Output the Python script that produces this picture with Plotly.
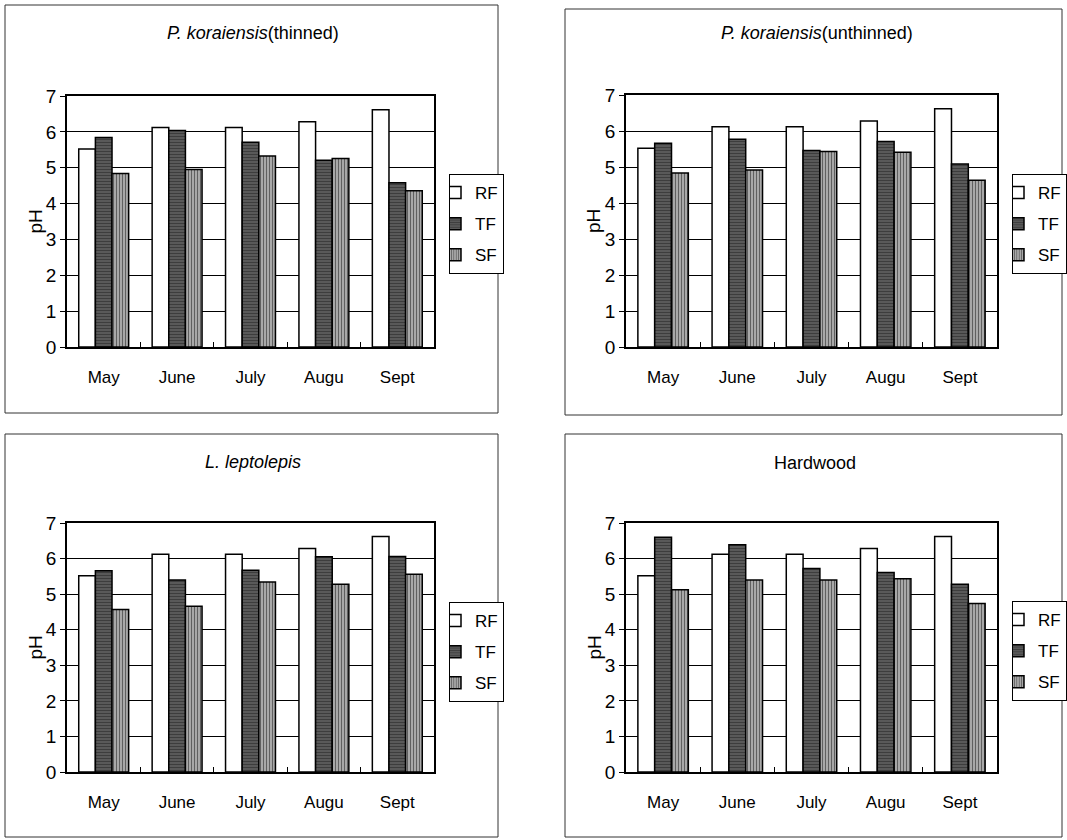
import plotly.graph_objects as go

months = ["May", "June", "July", "Augu", "Sept"]
series_names = ["RF", "TF", "SF"]

titles = [
    "<i>P. koraiensis</i>(thinned)",
    "<i>P. koraiensis</i>(unthinned)",
    "<i>L. leptolepis</i>",
    "Hardwood",
]

rf_values = [5.52, 6.12, 6.12, 6.28, 6.62]

p1_tf = [5.84, 6.04, 5.71, 5.21, 4.58]
p1_sf = [4.84, 4.95, 5.33, 5.26, 4.36]

p2_tf = [5.66, 5.77, 5.46, 5.71, 5.08]
p2_sf = [4.83, 4.92, 5.43, 5.41, 4.63]

p3_tf = [5.66, 5.40, 5.67, 6.05, 6.06]
p3_sf = [4.57, 4.66, 5.34, 5.28, 5.56]

p4_tf = [6.60, 6.39, 5.72, 5.61, 5.28]
p4_sf = [5.12, 5.40, 5.40, 5.43, 4.74]

panel_data = [
    (rf_values, p1_tf, p1_sf),
    (rf_values, p2_tf, p2_sf),
    (rf_values, p3_tf, p3_sf),
    (rf_values, p4_tf, p4_sf),
]

W, H = 1067, 840
FONT = "Liberation Sans, Arial, sans-serif"


def px(x):
    return x / W


def py(y):
    return 1 - y / H


# plot areas in pixels: (left, right, top, bottom)
plot_boxes = [
    (67, 434, 96, 347),
    (626, 997, 95, 347),
    (67, 434, 523, 772),
    (626, 997, 523, 772),
]
outer_boxes = [
    (5, 498, 5, 413),
    (565, 1062, 9, 415),
    (5, 498, 434, 837),
    (565, 1062, 434, 837),
]
legend_pos = [(449, 174), (1012, 174), (449, 602), (1012, 601)]
title_pos = [(253, 33), (817, 33), (253, 462), (815, 463)]

styles = [
    dict(color="white", pattern=dict(shape="")),
    dict(color="#202020", pattern=dict(shape="-", fgcolor="black", bgcolor="#7a7a7a", size=3, solidity=0.7)),
    dict(color="#707070", pattern=dict(shape="|", fgcolor="black", bgcolor="#c0c0c0", size=3, solidity=0.5)),
]

fig = go.Figure()
layout = dict(
    width=W, height=H, autosize=False,
    margin=dict(l=0, r=0, t=0, b=0),
    paper_bgcolor="white", plot_bgcolor="white",
    barmode="group", bargap=0.32, bargroupgap=0,
    font=dict(family=FONT, size=16, color="black"),
    showlegend=True,
)

shapes = []
annotations = []

for i, (vals, box) in enumerate(zip(panel_data, plot_boxes)):
    sfx = "" if i == 0 else str(i + 1)
    xa, ya = "x" + sfx, "y" + sfx
    leg = "legend" + sfx
    for name, v, st in zip(series_names, vals, styles):
        fig.add_trace(go.Bar(
            x=months, y=v, name=name, xaxis=xa, yaxis=ya, legend=leg,
            legendgroup=name + sfx,
            marker=dict(color=st["color"], pattern=st["pattern"],
                        line=dict(color="black", width=1.5)),
        ))
    l, r, t, b = box
    layout["xaxis" + sfx] = dict(
        domain=[px(l), px(r)], anchor=ya, type="category",
        showline=True, linecolor="black", linewidth=1.5, mirror=True,
        ticks="inside", tickson="boundaries", ticklen=5, tickcolor="black",
        showgrid=False, ticklabelstandoff=14, automargin=False,
        tickfont=dict(size=17, family=FONT),
    )
    layout["yaxis" + sfx] = dict(
        domain=[py(b), py(t)], anchor=xa, range=[0, 7], dtick=1,
        showline=True, linecolor="black", linewidth=1.5, mirror=True,
        ticks="outside", ticklen=5, tickcolor="black",
        showgrid=True, gridcolor="black", gridwidth=1, zeroline=False,
        automargin=False, tickfont=dict(size=19, family=FONT),
    )
    lx, ly = legend_pos[i]
    layout[leg] = dict(
        x=px(lx), y=py(ly), xanchor="left", yanchor="top",
        bordercolor="black", borderwidth=1, bgcolor="white",
        font=dict(size=17, family=FONT), itemwidth=30, indentation=-15,
        tracegroupgap=6, itemclick=False,
    )
    ol, orr, ot, ob = outer_boxes[i]
    shapes.append(dict(type="rect", xref="paper", yref="paper",
                       x0=px(ol), x1=px(orr), y0=py(ob), y1=py(ot),
                       line=dict(color="#333", width=1)))
    tx, ty = title_pos[i]
    annotations.append(dict(text=titles[i], xref="paper", yref="paper",
                            x=px(tx), y=py(ty), showarrow=False,
                            xanchor="center", yanchor="middle",
                            font=dict(size=18, family=FONT)))
    annotations.append(dict(text="pH", xref="paper", yref="paper",
                            x=px(l - 32), y=py((t + b) / 2), showarrow=False,
                            textangle=-90, xanchor="center", yanchor="middle",
                            font=dict(size=19, family=FONT)))

layout["shapes"] = shapes
layout["annotations"] = annotations
fig.update_layout(**layout)
fig.write_html(
    "out.html",
    config={"displayModeBar": False},
    post_script="document.body.style.margin='0';document.body.style.overflow='hidden';",
)
